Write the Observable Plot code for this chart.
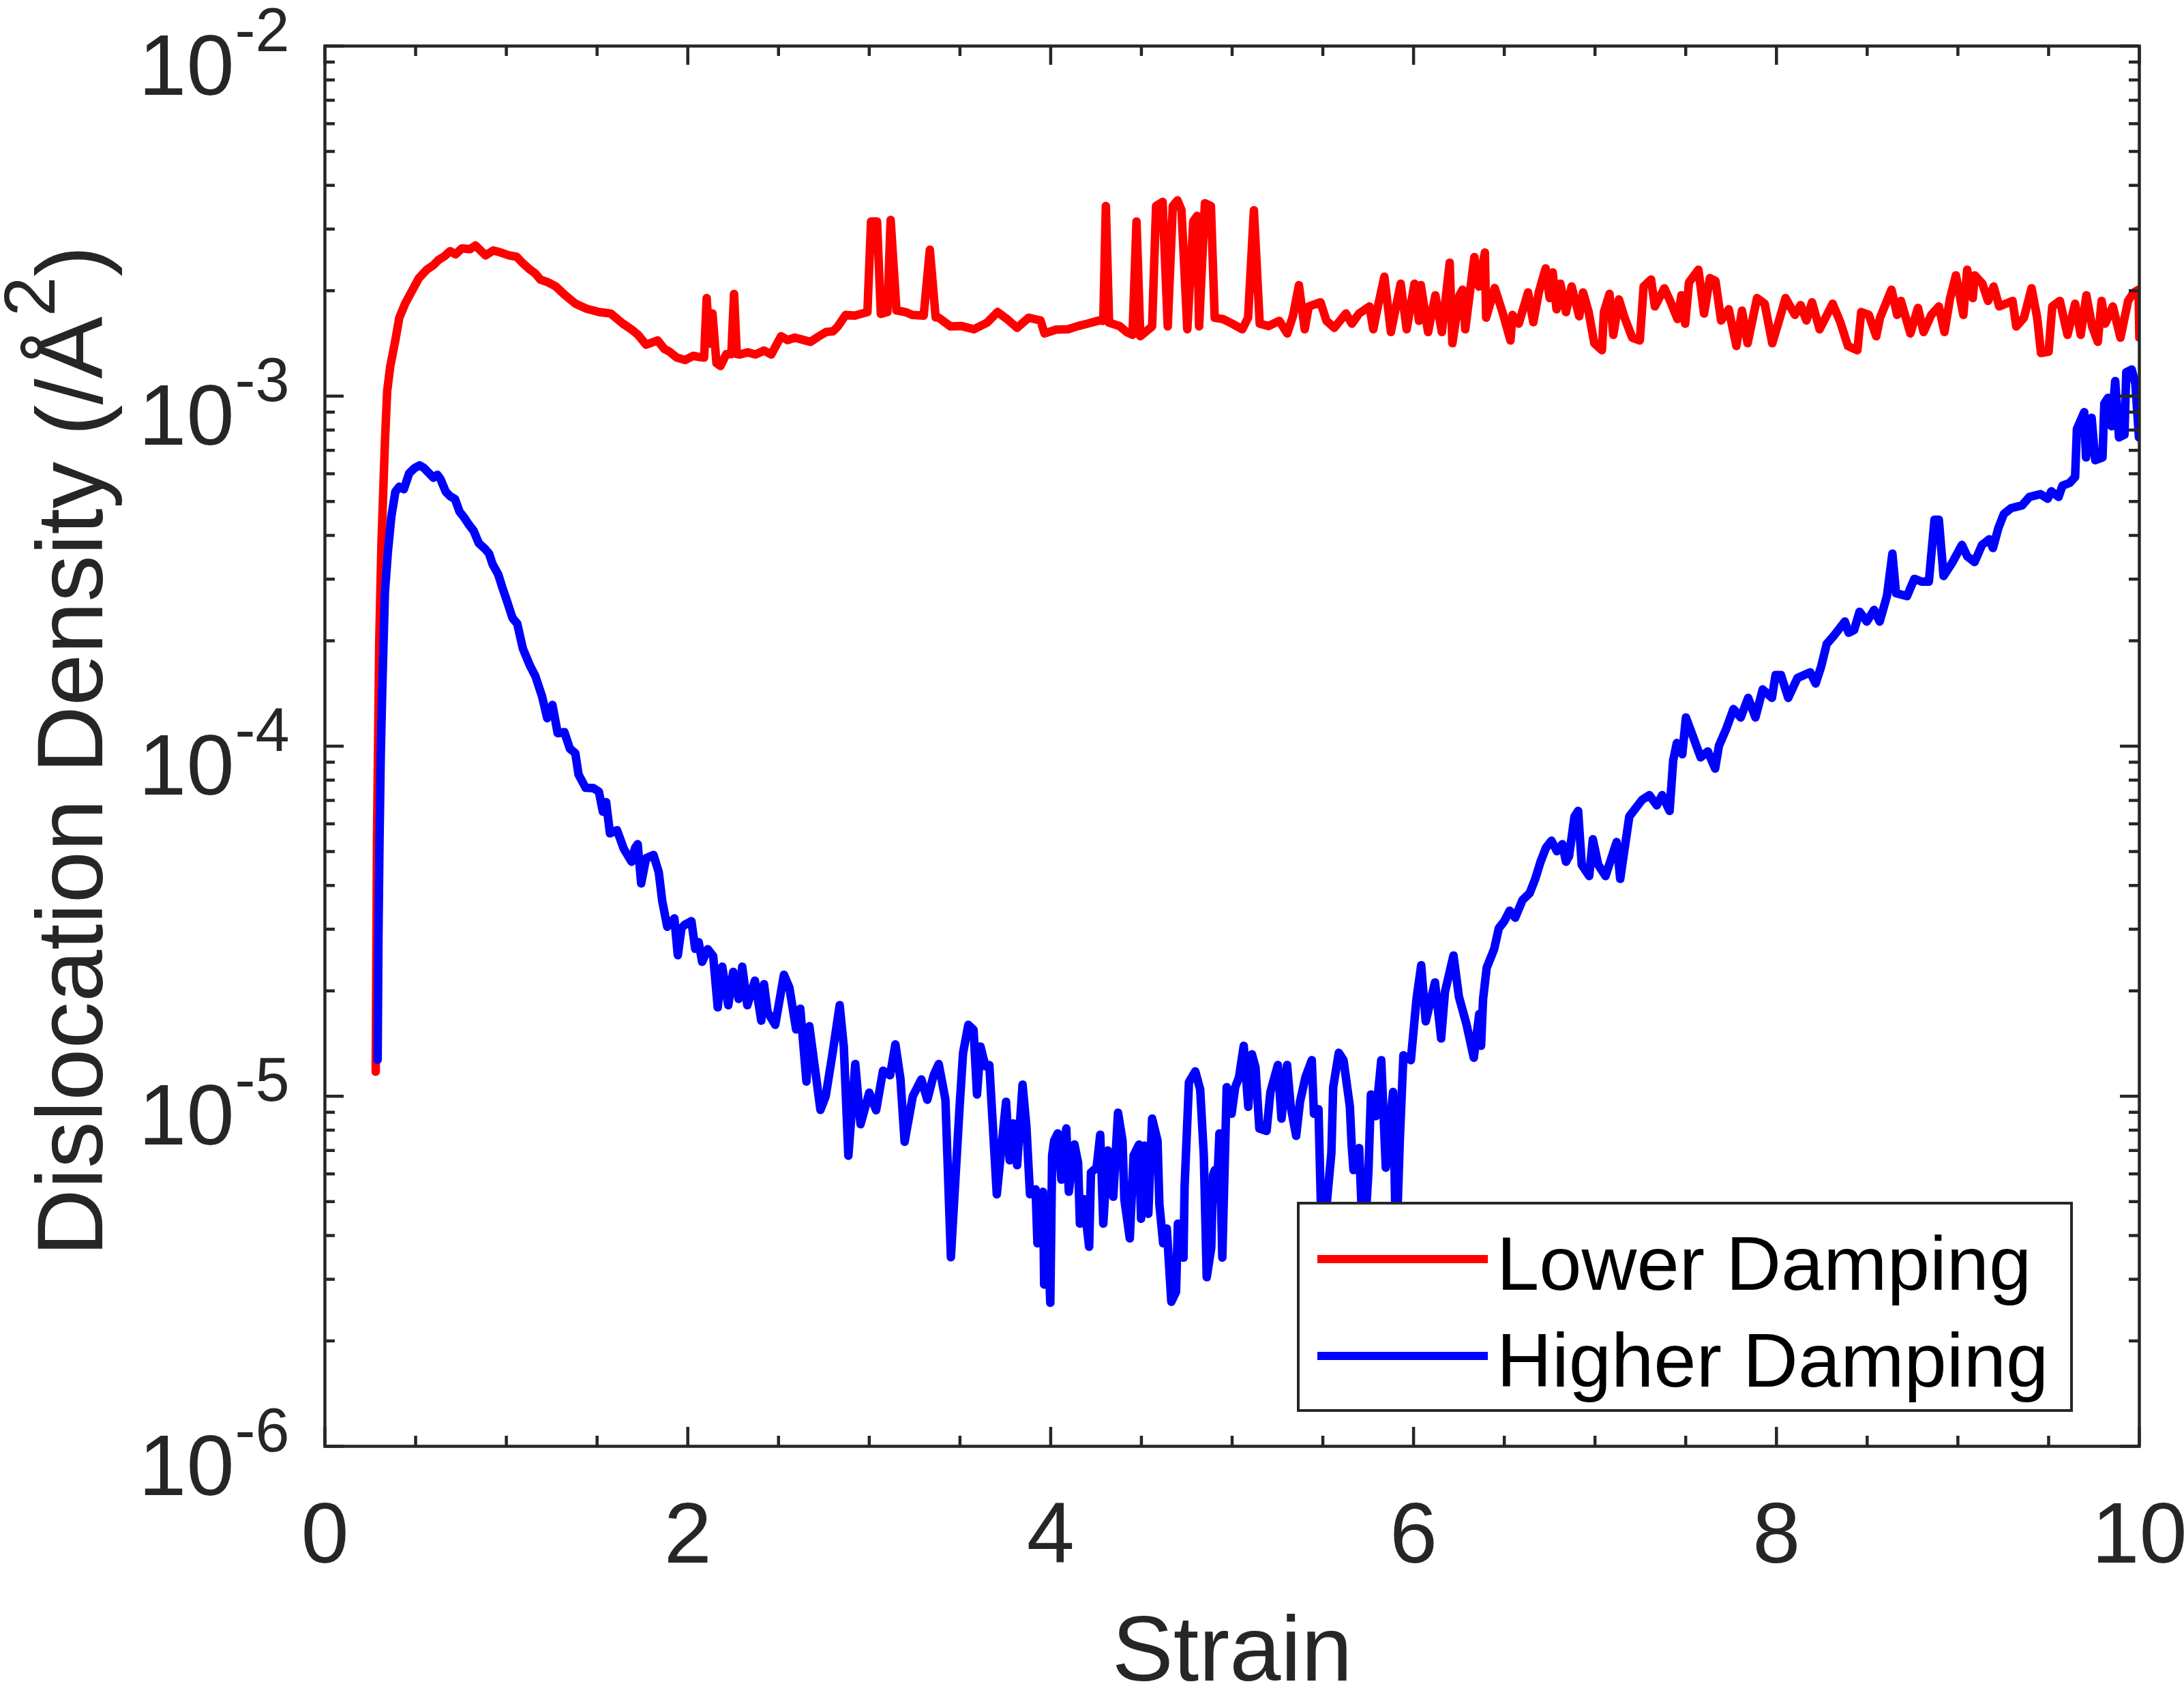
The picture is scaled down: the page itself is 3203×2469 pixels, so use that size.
<!DOCTYPE html>
<html><head><meta charset="utf-8">
<script src="https://cdn.jsdelivr.net/npm/d3@7"></script>
<script src="https://cdn.jsdelivr.net/npm/@observablehq/plot@0.6"></script>
<style>html,body{margin:0;padding:0;background:#fff;overflow:hidden}</style>
</head><body><div id="chart"></div>
<script>
// ---- data (strain, log10 of dislocation density) ----
const lowerStrain = [0.280,0.287,0.2995,0.312,0.331,0.343,0.360,0.387,0.410,0.442,0.475,0.518,0.561,0.600,0.626,0.660,0.690,0.720,0.755,0.800,0.830,0.860,0.885,0.928,0.970,1.014,1.057,1.090,1.122,1.160,1.187,1.230,1.273,1.320,1.381,1.440,1.511,1.575,1.640,1.690,1.726,1.770,1.834,1.870,1.899,1.940,1.985,2.030,2.072,2.090,2.104,2.120,2.136,2.158,2.180,2.212,2.240,2.255,2.270,2.287,2.330,2.374,2.420,2.460,2.514,2.550,2.590,2.640,2.676,2.720,2.762,2.800,2.827,2.870,2.920,2.990,3.010,3.043,3.064,3.100,3.118,3.150,3.200,3.237,3.300,3.334,3.366,3.383,3.448,3.510,3.577,3.650,3.707,3.760,3.815,3.879,3.944,3.966,4.030,4.095,4.150,4.203,4.268,4.290,4.304,4.322,4.380,4.419,4.451,4.473,4.494,4.559,4.581,4.617,4.645,4.673,4.699,4.721,4.753,4.786,4.807,4.818,4.850,4.883,4.904,4.950,5.000,5.056,5.088,5.120,5.152,5.200,5.260,5.304,5.336,5.368,5.400,5.422,5.487,5.520,5.563,5.627,5.660,5.700,5.757,5.778,5.800,5.839,5.875,5.929,5.962,6.005,6.030,6.040,6.080,6.120,6.156,6.199,6.214,6.253,6.270,6.285,6.335,6.360,6.393,6.400,6.447,6.490,6.534,6.545,6.580,6.631,6.660,6.690,6.728,6.750,6.767,6.788,6.809,6.840,6.871,6.913,6.934,6.965,6.996,7.038,7.049,7.080,7.101,7.132,7.163,7.205,7.247,7.268,7.309,7.330,7.382,7.414,7.455,7.476,7.497,7.518,7.570,7.601,7.633,7.664,7.695,7.737,7.779,7.810,7.841,7.893,7.935,7.977,8.019,8.050,8.102,8.133,8.165,8.196,8.238,8.310,8.352,8.394,8.446,8.467,8.509,8.550,8.571,8.634,8.665,8.686,8.738,8.780,8.811,8.853,8.895,8.926,8.957,8.989,9.030,9.051,9.082,9.093,9.135,9.166,9.197,9.228,9.301,9.322,9.364,9.406,9.437,9.458,9.500,9.520,9.562,9.604,9.646,9.677,9.708,9.740,9.771,9.792,9.812,9.854,9.896,9.938,9.969,9.996,10.000];
const lowerLog10 = [-4.930,-4.274,-3.702,-3.416,-3.130,-2.987,-2.915,-2.844,-2.776,-2.736,-2.704,-2.663,-2.639,-2.625,-2.611,-2.600,-2.586,-2.595,-2.578,-2.580,-2.570,-2.585,-2.598,-2.584,-2.590,-2.598,-2.602,-2.620,-2.635,-2.650,-2.667,-2.675,-2.687,-2.710,-2.736,-2.750,-2.760,-2.764,-2.792,-2.810,-2.825,-2.853,-2.841,-2.865,-2.873,-2.890,-2.897,-2.885,-2.889,-2.890,-2.720,-2.850,-2.764,-2.906,-2.914,-2.880,-2.880,-2.708,-2.880,-2.881,-2.875,-2.881,-2.870,-2.881,-2.829,-2.840,-2.833,-2.840,-2.845,-2.830,-2.817,-2.815,-2.801,-2.768,-2.770,-2.760,-2.501,-2.501,-2.765,-2.760,-2.497,-2.755,-2.760,-2.768,-2.770,-2.582,-2.775,-2.776,-2.801,-2.800,-2.809,-2.790,-2.760,-2.780,-2.805,-2.776,-2.784,-2.821,-2.810,-2.809,-2.800,-2.793,-2.784,-2.785,-2.457,-2.790,-2.800,-2.817,-2.825,-2.501,-2.829,-2.801,-2.457,-2.445,-2.801,-2.457,-2.441,-2.469,-2.809,-2.501,-2.485,-2.801,-2.449,-2.457,-2.776,-2.780,-2.793,-2.809,-2.776,-2.469,-2.793,-2.800,-2.785,-2.821,-2.770,-2.683,-2.809,-2.744,-2.732,-2.785,-2.805,-2.764,-2.793,-2.764,-2.744,-2.809,-2.752,-2.659,-2.817,-2.679,-2.809,-2.679,-2.785,-2.683,-2.817,-2.712,-2.817,-2.619,-2.849,-2.712,-2.696,-2.809,-2.603,-2.687,-2.590,-2.776,-2.691,-2.760,-2.841,-2.768,-2.793,-2.704,-2.789,-2.704,-2.635,-2.720,-2.647,-2.752,-2.679,-2.760,-2.687,-2.772,-2.704,-2.760,-2.849,-2.869,-2.760,-2.708,-2.825,-2.724,-2.776,-2.833,-2.841,-2.687,-2.667,-2.744,-2.692,-2.728,-2.780,-2.712,-2.793,-2.675,-2.639,-2.764,-2.663,-2.671,-2.784,-2.752,-2.857,-2.756,-2.849,-2.720,-2.736,-2.849,-2.776,-2.720,-2.768,-2.740,-2.784,-2.732,-2.809,-2.736,-2.789,-2.857,-2.869,-2.760,-2.768,-2.829,-2.776,-2.696,-2.768,-2.728,-2.821,-2.748,-2.817,-2.768,-2.744,-2.817,-2.720,-2.655,-2.768,-2.639,-2.720,-2.655,-2.679,-2.728,-2.687,-2.744,-2.728,-2.801,-2.776,-2.692,-2.776,-2.877,-2.873,-2.744,-2.728,-2.825,-2.736,-2.825,-2.712,-2.801,-2.845,-2.728,-2.793,-2.744,-2.833,-2.728,-2.704,-2.696,-2.833];

const higherStrain = [0.2907,0.2950,0.3008,0.3080,0.3158,0.3308,0.3471,0.3659,0.3885,0.4098,0.435,0.464,0.479,0.496,0.522,0.545,0.566,0.598,0.620,0.637,0.666,0.690,0.717,0.742,0.765,0.792,0.820,0.848,0.880,0.905,0.924,0.955,0.980,1.000,1.034,1.060,1.091,1.130,1.160,1.197,1.225,1.254,1.283,1.320,1.350,1.380,1.398,1.437,1.480,1.510,1.532,1.550,1.571,1.610,1.647,1.690,1.710,1.724,1.743,1.770,1.811,1.840,1.859,1.887,1.926,1.945,1.965,1.983,2.020,2.041,2.060,2.079,2.110,2.140,2.165,2.190,2.223,2.250,2.280,2.300,2.328,2.370,2.405,2.420,2.440,2.482,2.530,2.560,2.597,2.620,2.654,2.670,2.712,2.731,2.760,2.798,2.837,2.860,2.885,2.923,2.952,3.000,3.038,3.076,3.115,3.144,3.172,3.195,3.240,3.287,3.320,3.355,3.383,3.420,3.450,3.498,3.517,3.546,3.575,3.594,3.613,3.640,3.662,3.703,3.754,3.774,3.794,3.815,3.845,3.866,3.886,3.917,3.927,3.958,3.964,3.978,3.998,4.008,4.019,4.039,4.059,4.086,4.100,4.131,4.151,4.161,4.182,4.212,4.222,4.253,4.273,4.290,4.314,4.345,4.371,4.396,4.406,4.436,4.457,4.487,4.498,4.518,4.538,4.559,4.589,4.599,4.620,4.640,4.665,4.691,4.701,4.732,4.738,4.762,4.797,4.824,4.844,4.860,4.885,4.895,4.905,4.915,4.930,4.946,4.970,4.997,5.017,5.038,5.064,5.089,5.109,5.129,5.150,5.190,5.211,5.252,5.272,5.303,5.323,5.353,5.374,5.404,5.439,5.451,5.476,5.496,5.547,5.557,5.588,5.614,5.649,5.659,5.669,5.700,5.724,5.751,5.765,5.792,5.822,5.847,5.887,5.904,5.924,5.944,5.985,6.016,6.042,6.067,6.118,6.152,6.173,6.220,6.250,6.291,6.332,6.362,6.372,6.383,6.403,6.444,6.470,6.500,6.530,6.560,6.600,6.640,6.670,6.700,6.730,6.760,6.790,6.820,6.840,6.857,6.887,6.907,6.927,6.968,6.988,7.018,7.058,7.119,7.139,7.189,7.260,7.300,7.340,7.370,7.411,7.431,7.451,7.481,7.501,7.542,7.582,7.622,7.662,7.683,7.723,7.763,7.803,7.844,7.884,7.924,7.975,7.995,8.025,8.065,8.116,8.186,8.216,8.246,8.277,8.317,8.377,8.398,8.428,8.458,8.498,8.538,8.569,8.609,8.639,8.659,8.720,8.760,8.800,8.840,8.871,8.895,8.921,8.971,9.022,9.052,9.092,9.133,9.173,9.193,9.223,9.253,9.294,9.354,9.394,9.455,9.495,9.515,9.555,9.576,9.616,9.646,9.656,9.696,9.706,9.737,9.757,9.797,9.807,9.827,9.847,9.867,9.888,9.918,9.928,9.958,9.978,9.998];
const higherLog10 = [-4.896,-4.550,-4.274,-4.020,-3.845,-3.559,-3.445,-3.345,-3.273,-3.259,-3.266,-3.221,-3.213,-3.205,-3.198,-3.205,-3.216,-3.233,-3.225,-3.237,-3.273,-3.286,-3.294,-3.330,-3.345,-3.366,-3.385,-3.420,-3.435,-3.450,-3.480,-3.509,-3.550,-3.580,-3.634,-3.650,-3.721,-3.770,-3.800,-3.858,-3.920,-3.882,-3.963,-3.960,-4.007,-4.020,-4.081,-4.119,-4.120,-4.130,-4.187,-4.160,-4.249,-4.240,-4.293,-4.330,-4.290,-4.280,-4.392,-4.320,-4.311,-4.360,-4.442,-4.516,-4.492,-4.597,-4.520,-4.510,-4.500,-4.579,-4.560,-4.616,-4.580,-4.600,-4.746,-4.630,-4.740,-4.645,-4.722,-4.630,-4.740,-4.670,-4.784,-4.680,-4.760,-4.796,-4.653,-4.690,-4.809,-4.750,-4.958,-4.800,-4.964,-5.039,-5.000,-4.877,-4.740,-4.860,-5.170,-4.908,-5.080,-4.990,-5.040,-4.927,-4.940,-4.852,-4.950,-5.130,-5.000,-4.952,-5.010,-4.940,-4.908,-5.010,-5.460,-5.030,-4.877,-4.796,-4.810,-4.995,-4.858,-4.914,-4.911,-5.280,-5.016,-5.183,-5.078,-5.197,-4.967,-5.085,-5.280,-5.266,-5.420,-5.273,-5.538,-5.329,-5.590,-5.169,-5.127,-5.106,-5.238,-5.092,-5.273,-5.138,-5.190,-5.364,-5.294,-5.430,-5.218,-5.204,-5.110,-5.364,-5.155,-5.287,-5.047,-5.127,-5.294,-5.406,-5.169,-5.138,-5.350,-5.141,-5.336,-5.064,-5.127,-5.308,-5.420,-5.378,-5.587,-5.559,-5.364,-5.461,-5.259,-4.960,-4.929,-4.981,-5.169,-5.517,-5.433,-5.225,-5.211,-5.294,-5.106,-5.461,-4.974,-5.050,-4.974,-4.946,-4.856,-5.030,-4.880,-4.918,-5.092,-5.099,-4.988,-4.911,-5.064,-4.911,-5.030,-5.113,-5.016,-4.946,-4.897,-5.050,-5.037,-5.450,-5.162,-4.974,-4.876,-4.897,-5.030,-5.141,-5.211,-5.148,-5.450,-5.218,-4.995,-5.057,-4.897,-5.204,-4.988,-5.450,-5.127,-4.883,-4.897,-4.723,-4.626,-4.786,-4.675,-4.835,-4.702,-4.598,-4.716,-4.793,-4.890,-4.765,-4.856,-4.723,-4.633,-4.580,-4.520,-4.500,-4.470,-4.490,-4.440,-4.420,-4.380,-4.330,-4.290,-4.270,-4.300,-4.280,-4.330,-4.314,-4.201,-4.185,-4.339,-4.371,-4.266,-4.339,-4.371,-4.274,-4.379,-4.201,-4.153,-4.140,-4.169,-4.140,-4.185,-4.040,-3.991,-4.023,-3.918,-3.975,-4.032,-4.015,-4.064,-3.999,-3.951,-3.894,-3.918,-3.862,-3.918,-3.838,-3.862,-3.797,-3.797,-3.862,-3.805,-3.789,-3.821,-3.773,-3.708,-3.684,-3.644,-3.676,-3.668,-3.616,-3.644,-3.611,-3.644,-3.571,-3.450,-3.563,-3.571,-3.522,-3.530,-3.530,-3.353,-3.353,-3.514,-3.474,-3.425,-3.458,-3.474,-3.425,-3.409,-3.434,-3.377,-3.337,-3.320,-3.312,-3.288,-3.280,-3.293,-3.272,-3.288,-3.256,-3.248,-3.231,-3.094,-3.046,-3.175,-3.062,-3.183,-3.175,-3.021,-3.005,-3.086,-2.957,-3.118,-3.110,-2.932,-2.924,-2.965,-3.118];

const seriesNames = ["Lower Damping", "Higher Damping"];
const seriesColors = ["#ff0000", "#0000ff"];
const xMajorTicks = [0, 2, 4, 6, 8, 10];
const xMinorTicks = [0.5, 1, 1.5, 2.5, 3, 3.5, 4.5, 5, 5.5, 6.5, 7, 7.5, 8.5, 9, 9.5];
const yDecadeTicks = [1e-6, 1e-5, 1e-4, 1e-3, 1e-2];
const yDecadeExponents = ["-6", "-5", "-4", "-3", "-2"];
const yMinorTicks = [2e-6,3e-6,4e-6,5e-6,6e-6,7e-6,8e-6,9e-6,2e-5,3e-5,4e-5,5e-5,6e-5,7e-5,8e-5,9e-5,2e-4,3e-4,4e-4,5e-4,6e-4,7e-4,8e-4,9e-4,2e-3,3e-3,4e-3,5e-3,6e-3,7e-3,8e-3,9e-3];
const xLabel = "Strain";
const yLabelMain = "Dislocation Density (/Å";
const yLabelSup = "2";
const yLabelEnd = ")";

// ---- build tables ----
const lower = lowerStrain.map((s, i) => ({strain: s, density: 10 ** lowerLog10[i]}));
const higher = higherStrain.map((s, i) => ({strain: s, density: 10 ** higherLog10[i]}));

const W = 3203, H = 2469, mL = 476, mR = 66, mT = 67, mB = 349;
const innerW = W - mL - mR, innerH = H - mT - mB;
const majorLen = 28, minorLen = 15;
const ink = "#262626";
const tick = {stroke: ink, strokeWidth: 4.5};
const font = "'Liberation Sans', Arial, Helvetica, sans-serif";

const chart = Plot.plot({
  width: W, height: H,
  marginLeft: mL, marginRight: mR, marginTop: mT, marginBottom: mB,
  style: {fontFamily: font, background: "#ffffff", overflow: "visible"},
  x: {type: "linear", domain: [0, 10], axis: null},
  y: {type: "log", domain: [1e-6, 1e-2], axis: null},
  marks: [
    Plot.line(lower, {x: "strain", y: "density", stroke: seriesColors[0], strokeWidth: 12.5, strokeLinejoin: "round", clip: true}),
    Plot.line(higher, {x: "strain", y: "density", stroke: seriesColors[1], strokeWidth: 12.5, strokeLinejoin: "round", clip: true}),
    // inner ticks: bottom / top
    Plot.tickX(xMajorTicks, {x: d => d, insetTop: innerH - majorLen, ...tick}),
    Plot.tickX(xMinorTicks, {x: d => d, insetTop: innerH - minorLen, ...tick}),
    Plot.tickX(xMajorTicks, {x: d => d, insetBottom: innerH - majorLen, ...tick}),
    Plot.tickX(xMinorTicks, {x: d => d, insetBottom: innerH - minorLen, ...tick}),
    // inner ticks: left / right
    Plot.tickY(yDecadeTicks, {y: d => d, insetRight: innerW - majorLen, ...tick}),
    Plot.tickY(yMinorTicks, {y: d => d, insetRight: innerW - minorLen, ...tick}),
    Plot.tickY(yDecadeTicks, {y: d => d, insetLeft: innerW - majorLen, ...tick}),
    Plot.tickY(yMinorTicks, {y: d => d, insetLeft: innerW - minorLen, ...tick}),
    Plot.frame({stroke: ink, strokeWidth: 4.5}),
    // tick labels
    Plot.text(xMajorTicks, {x: d => d, text: d => String(d), frameAnchor: "bottom", lineAnchor: "bottom", dy: 170, fontSize: 126, fill: ink}),
    Plot.text(yDecadeTicks, {y: d => d, text: () => "10", frameAnchor: "left", textAnchor: "end", lineAnchor: "bottom", dx: -133, dy: 71, fontSize: 126, fill: ink}),
    Plot.text(yDecadeTicks, {y: d => d, text: (d, i) => yDecadeExponents[i], frameAnchor: "left", textAnchor: "start", lineAnchor: "bottom", dx: -132, dy: 7, fontSize: 90, fill: ink}),
    // x label
    Plot.text([xLabel], {text: d => d, frameAnchor: "bottom", lineAnchor: "bottom", dy: 343, fontSize: 135, fill: ink})
  ]
});
document.getElementById("chart").appendChild(chart);

const svg = d3.select(chart);
// y label with superscript
const yl = svg.append("text")
  .attr("transform", "translate(150,1842) rotate(-90)")
  .attr("text-anchor", "start")
  .attr("font-size", 137).attr("fill", ink).attr("font-family", font);
yl.append("tspan").text(yLabelMain);
yl.append("tspan").attr("font-size", 105).attr("dy", -70).text(yLabelSup);
yl.append("tspan").attr("dy", 70).text(yLabelEnd);

// legend
const lg = svg.append("g").attr("font-family", font).attr("text-anchor", "start");
lg.append("rect").attr("x", 1904).attr("y", 1764).attr("width", 1134).attr("height", 304)
  .attr("fill", "#ffffff").attr("stroke", ink).attr("stroke-width", 4);
const rowY = [1846, 1988];
seriesNames.forEach((name, i) => {
  lg.append("line").attr("x1", 1932).attr("x2", 2182).attr("y1", rowY[i]).attr("y2", rowY[i])
    .attr("stroke", seriesColors[i]).attr("stroke-width", 12);
  lg.append("text").attr("x", 2195).attr("y", rowY[i] + 45).attr("text-anchor", "start")
    .attr("font-size", 112).attr("fill", "#000000").text(name);
});
</script>
</body></html>
